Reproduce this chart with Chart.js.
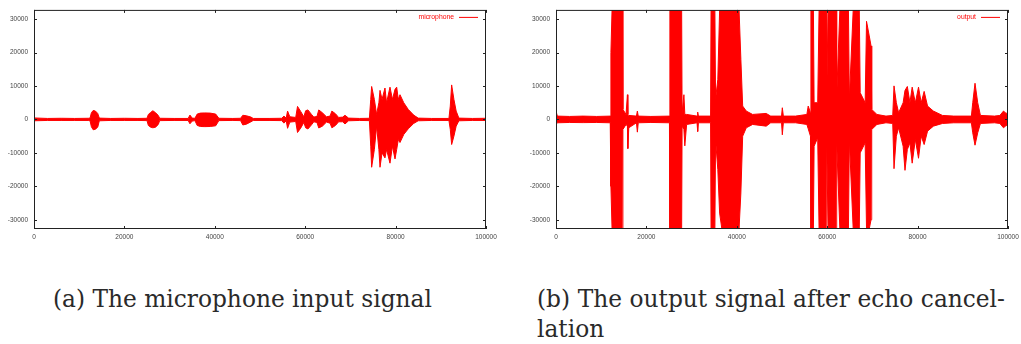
<!DOCTYPE html>
<html>
<head>
<meta charset="utf-8">
<script src="https://cdn.jsdelivr.net/npm/chart.js@4.4.1/dist/chart.umd.min.js"></script>
<style>
  body { margin: 0; background: #fff; width: 1021px; height: 344px; position: relative; overflow: hidden; }
  canvas { position: absolute; top: 0; }
  #micChart { left: 0; }
  #outChart { left: 522px; }
  .caption { position: absolute; font-family: "DejaVu Serif", serif; font-size: 23.3px; color: #2a2a2a; line-height: 30px; white-space: nowrap; }
  .justify { display: flex; justify-content: space-between; }
</style>
</head>
<body>
<canvas id="micChart" width="506" height="250"></canvas>
<canvas id="outChart" width="506" height="250"></canvas>

<div class="caption" style="left:53px; top:284px;">(a) The microphone input signal</div>
<div class="caption" style="left:537px; top:284px; width:468px;">
  <div class="justify"><span>(b)</span><span>The</span><span>output</span><span>signal</span><span>after</span><span>echo</span><span>cancel-</span></div>
  <div>lation</div>
</div>

<script>
// axes
const xTicks = [0, 20000, 40000, 60000, 80000, 100000];
const yTicks = [-30000, -20000, -10000, 0, 10000, 20000, 30000];
const yMin = -32768;
const yMax = 32767;

// microphone signal, read as an envelope (sample index, upper, lower)
const micX = [0, 3000, 6000, 9000, 12000, 12400, 12700, 13100, 13600, 14100, 14450,
  17000, 20000, 23000, 25000, 25300, 25800, 26300, 26900, 27500, 27800,
  31000, 34100, 34500, 35000, 35600, 36100, 36800, 37800, 39000, 40200, 40900,
  44000, 45700, 46200, 47000, 48000, 48500, 52000, 54800, 55300, 55800,
  56100, 56600, 57900, 58300, 59000, 59700, 60100, 60600, 61400, 61900,
  62600, 63000, 63800, 64700, 65500, 65900, 66700, 67400, 68300, 68800, 69600,
  72000, 74200, 74500, 74700, 75300, 75800, 76300, 76550, 77000, 77650, 78000,
  78760, 79300, 79870, 80240, 80600, 80970, 81800, 82800, 84000, 85000,
  88000, 91800, 92100, 92400, 92900, 93400, 94000, 97000, 100000];
const micHi = [450, 300, 350, 300, 350, 400, 2000, 2700, 2500, 1800, 400,
  300, 350, 300, 350, 1500, 2100, 2600, 2000, 1200, 350,
  300, 300, 1300, 400, 350, 1600, 1900, 1950, 1900, 1600, 350,
  300, 350, 1250, 1100, 700, 300, 300, 350, 1000, 400,
  2500, 800, 600, 3900, 2400, 800, 2600, 2850, 1500, 700,
  900, 2850, 2000, 800, 1000, 2500, 1700, 600, 700, 1250, 400,
  300, 350, 6000, 9860, 6000, 1500, 5000, 8700, 6000, 9400, 5000,
  9660, 6000, 9000, 9660, 6000, 7400, 5000, 3000, 1300, 400,
  300, 300, 4000, 10330, 6000, 2500, 400, 300, 350];
const micLo = [-400, -300, -300, -300, -300, -400, -2200, -3100, -2900, -2300, -400,
  -300, -300, -300, -350, -1800, -2300, -2500, -2300, -1500, -350,
  -300, -300, -1300, -500, -350, -1800, -2100, -2150, -2100, -1900, -350,
  -300, -350, -1650, -1400, -700, -300, -300, -350, -1100, -400,
  -2650, -800, -600, -3900, -2600, -900, -2500, -2850, -1600, -700,
  -900, -2550, -2000, -800, -1100, -2500, -1800, -700, -700, -1350, -400,
  -300, -350, -8000, -14300, -9000, -2000, -9000, -14300, -10000, -11500, -9000,
  -13080, -8000, -11800, -9000, -6000, -6900, -4500, -2800, -1200, -400,
  -300, -300, -3000, -7500, -5000, -2000, -400, -300, -300];

// output signal after echo cancellation, same reading
const outX = [0, 300, 3000, 6000, 9000, 12000, 12150, 12400, 14700, 14800,
  15500, 15800, 15900, 16100, 17800, 18000, 18200, 21000, 25100, 25200,
  27800, 27900, 28300, 28500, 28900, 31200, 31350, 31500, 34200, 34300,
  35150, 35300, 35800, 36200, 36700, 40500, 40900, 41300, 42100, 43500,
  46500, 47500, 49900, 50070, 50300, 53000, 55500, 55800, 56300, 56400,
  56950, 57100, 57900, 58200, 59750, 59900, 60200, 61950, 62100, 62800,
  64700, 64900, 65750, 67100, 67300, 68400, 68700, 69300, 69700, 69850,
  71000, 73000, 74500, 74780, 75300, 75800, 76800, 77210, 77730, 78300,
  78800, 79500, 80200, 80800, 81450, 82200, 83500, 85500, 88000, 91900,
  92200, 92700, 93300, 93900, 97000, 98200, 99000, 99600, 100000];
const outHi = [2500, 1000, 900, 1000, 900, 1000, 20000, 32767, 32767, 3000,
  1500, 7400, 1500, 1200, 1000, 2500, 1000, 900, 1000, 32767,
  32767, 2000, 7400, 1500, 1500, 1000, 2200, 1000, 1000, 32767,
  32767, 6000, 12000, 32767, 32767, 32767, 18000, 4000, 2500, 1500,
  1800, 1000, 1000, 3500, 1000, 1000, 1500, 4000, 2000, 32767,
  32767, 5000, 5000, 32767, 32767, 8000, 32767, 32767, 7000, 32767,
  32767, 6000, 32767, 32767, 8000, 5000, 29350, 25000, 22000, 3000,
  1500, 1000, 1200, 10040, 5000, 2000, 5000, 8690, 9860, 5000,
  9660, 5000, 9660, 5000, 8390, 4000, 2500, 1200, 1000, 1000,
  5000, 10830, 5000, 1200, 1000, 1200, 2500, 1800, 2200];
const outLo = [-1500, -1000, -900, -950, -900, -1000, -20000, -32768, -32768, -3000,
  -1500, -2000, -8700, -2500, -1000, -3800, -1000, -900, -1000, -32768,
  -32768, -2000, -3000, -7900, -1500, -1000, -3600, -1000, -1000, -32768,
  -32768, -6000, -15000, -28000, -32768, -32768, -22000, -5000, -2500, -1500,
  -2000, -1000, -1000, -4600, -1000, -1000, -1500, -2800, -5000, -32768,
  -32768, -8000, -5500, -32768, -32768, -8000, -32768, -32768, -7000, -32768,
  -32768, -6000, -32768, -32768, -10000, -7000, -32768, -32768, -30000, -3000,
  -1500, -1000, -1200, -14730, -5000, -2500, -8000, -15220, -9000, -7000,
  -13080, -6000, -11610, -5000, -7510, -3500, -2000, -1200, -1000, -1000,
  -4000, -7700, -4000, -1200, -1000, -1200, -2500, -1800, -2000];

const RED = "#ff0000";
const tickFont = { family: "'Liberation Sans', Arial, sans-serif", size: 6.5 };

// gnuplot-like frame: full border, inward mirrored ticks, legend inside the plot
const gnuFrame = {
  id: "gnuFrame",
  afterDatasetsDraw(chart, args, opts) {
    const { ctx, chartArea: a, scales } = chart;
    ctx.save();
    ctx.strokeStyle = "#222";
    ctx.lineWidth = 1;
    ctx.strokeRect(a.left + 0.5, a.top + 0.5, a.right - a.left - 1, a.bottom - a.top - 1);
    ctx.beginPath();
    scales.x.ticks.forEach((t) => {
      const px = Math.round(scales.x.getPixelForValue(t.value)) + 0.5;
      ctx.moveTo(px, a.bottom); ctx.lineTo(px, a.bottom - 3);
      ctx.moveTo(px, a.top); ctx.lineTo(px, a.top + 3);
    });
    scales.y.ticks.forEach((t) => {
      const py = Math.round(scales.y.getPixelForValue(t.value)) + 0.5;
      ctx.moveTo(a.left, py); ctx.lineTo(a.left + 3, py);
      ctx.moveTo(a.right, py); ctx.lineTo(a.right - 3, py);
    });
    ctx.stroke();

    // key
    const ky = a.top + 7;
    ctx.font = "6.8px 'Liberation Sans', Arial, sans-serif";
    ctx.fillStyle = RED;
    ctx.textAlign = "right";
    ctx.textBaseline = "middle";
    ctx.fillText(opts.label, a.right - 32, ky);
    ctx.strokeStyle = RED;
    ctx.beginPath();
    ctx.moveTo(a.right - 27, ky + 0.5);
    ctx.lineTo(a.right - 8, ky + 0.5);
    ctx.stroke();
    ctx.restore();
  },
};

function makeChart(id, label, xs, hi, lo) {
  const pts = (arr) => xs.map((x, i) => ({ x: x, y: arr[i] }));
  return new Chart(document.getElementById(id), {
    type: "line",
    data: {
      datasets: [
        { label: label, data: pts(hi), borderColor: RED, backgroundColor: RED, borderWidth: 1, pointRadius: 0, tension: 0, fill: "+1" },
        { label: label, data: pts(lo), borderColor: RED, backgroundColor: RED, borderWidth: 1, pointRadius: 0, tension: 0, fill: false },
      ],
    },
    options: {
      responsive: false,
      animation: false,
      events: [],
      layout: { padding: { top: 5, right: 20, left: 0, bottom: 0 } },
      plugins: {
        legend: { display: false },
        tooltip: { enabled: false },
        gnuFrame: { label: label },
      },
      scales: {
        x: {
          type: "linear",
          min: 0,
          max: 100000,
          grid: { display: false, drawTicks: false },
          border: { display: false },
          afterBuildTicks: (s) => { s.ticks = xTicks.map((v) => ({ value: v })); },
          afterFit: (s) => { s.height = 21; },
          ticks: { font: tickFont, color: "#444", padding: 4, maxRotation: 0, callback: (v) => String(v) },
        },
        y: {
          min: yMin,
          max: yMax,
          grid: { display: false, drawTicks: false },
          border: { display: false },
          afterBuildTicks: (s) => { s.ticks = yTicks.map((v) => ({ value: v })); },
          afterFit: (s) => { s.width = 34; },
          ticks: { font: tickFont, color: "#444", padding: 6, callback: (v) => String(v) },
        },
      },
    },
    plugins: [gnuFrame],
  });
}

makeChart("micChart", "microphone", micX, micHi, micLo);
makeChart("outChart", "output", outX, outHi, outLo);
</script>
</body>
</html>
